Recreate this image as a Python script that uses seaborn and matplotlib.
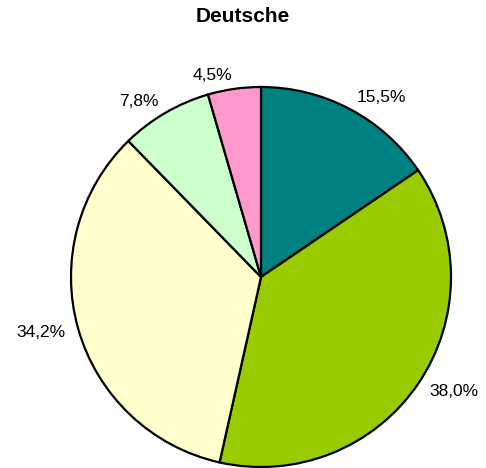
import matplotlib
matplotlib.use('Agg')
import matplotlib.pyplot as plt
import seaborn as sns

# slice data, clockwise from 12 o'clock
shares = [15.5, 38.0, 34.2, 7.8, 4.5]
colors = ['#008080', '#99CC00', '#FFFFCC', '#CCFFCC', '#FF99CC']
labels = [f'{v:.1f}%'.replace('.', ',') for v in shares]

sns.set_style('white')
plt.rcParams['font.family'] = ['Liberation Sans', 'DejaVu Sans']

fig = plt.figure(figsize=(4.86, 4.68), dpi=100)
ax = fig.add_axes([71 / 486, 1 / 468, 380 / 486, 380 / 468])

ax.pie(shares, colors=colors, labels=labels, startangle=90, counterclock=False,
       labeldistance=1.07, radius=1.0,
       wedgeprops={'edgecolor': 'black', 'linewidth': 1.6},
       textprops={'fontsize': 12.5, 'color': 'black'})
ax.set_xlim(-1, 1)
ax.set_ylim(-1, 1)
ax.set_aspect('equal')
ax.axis('off')

fig.text(0.5, 1 - 17 / 468, 'Deutsche', ha='center', va='center',
         fontsize=15, fontweight='bold', color='black')

plt.savefig('out.png', dpi=100)
